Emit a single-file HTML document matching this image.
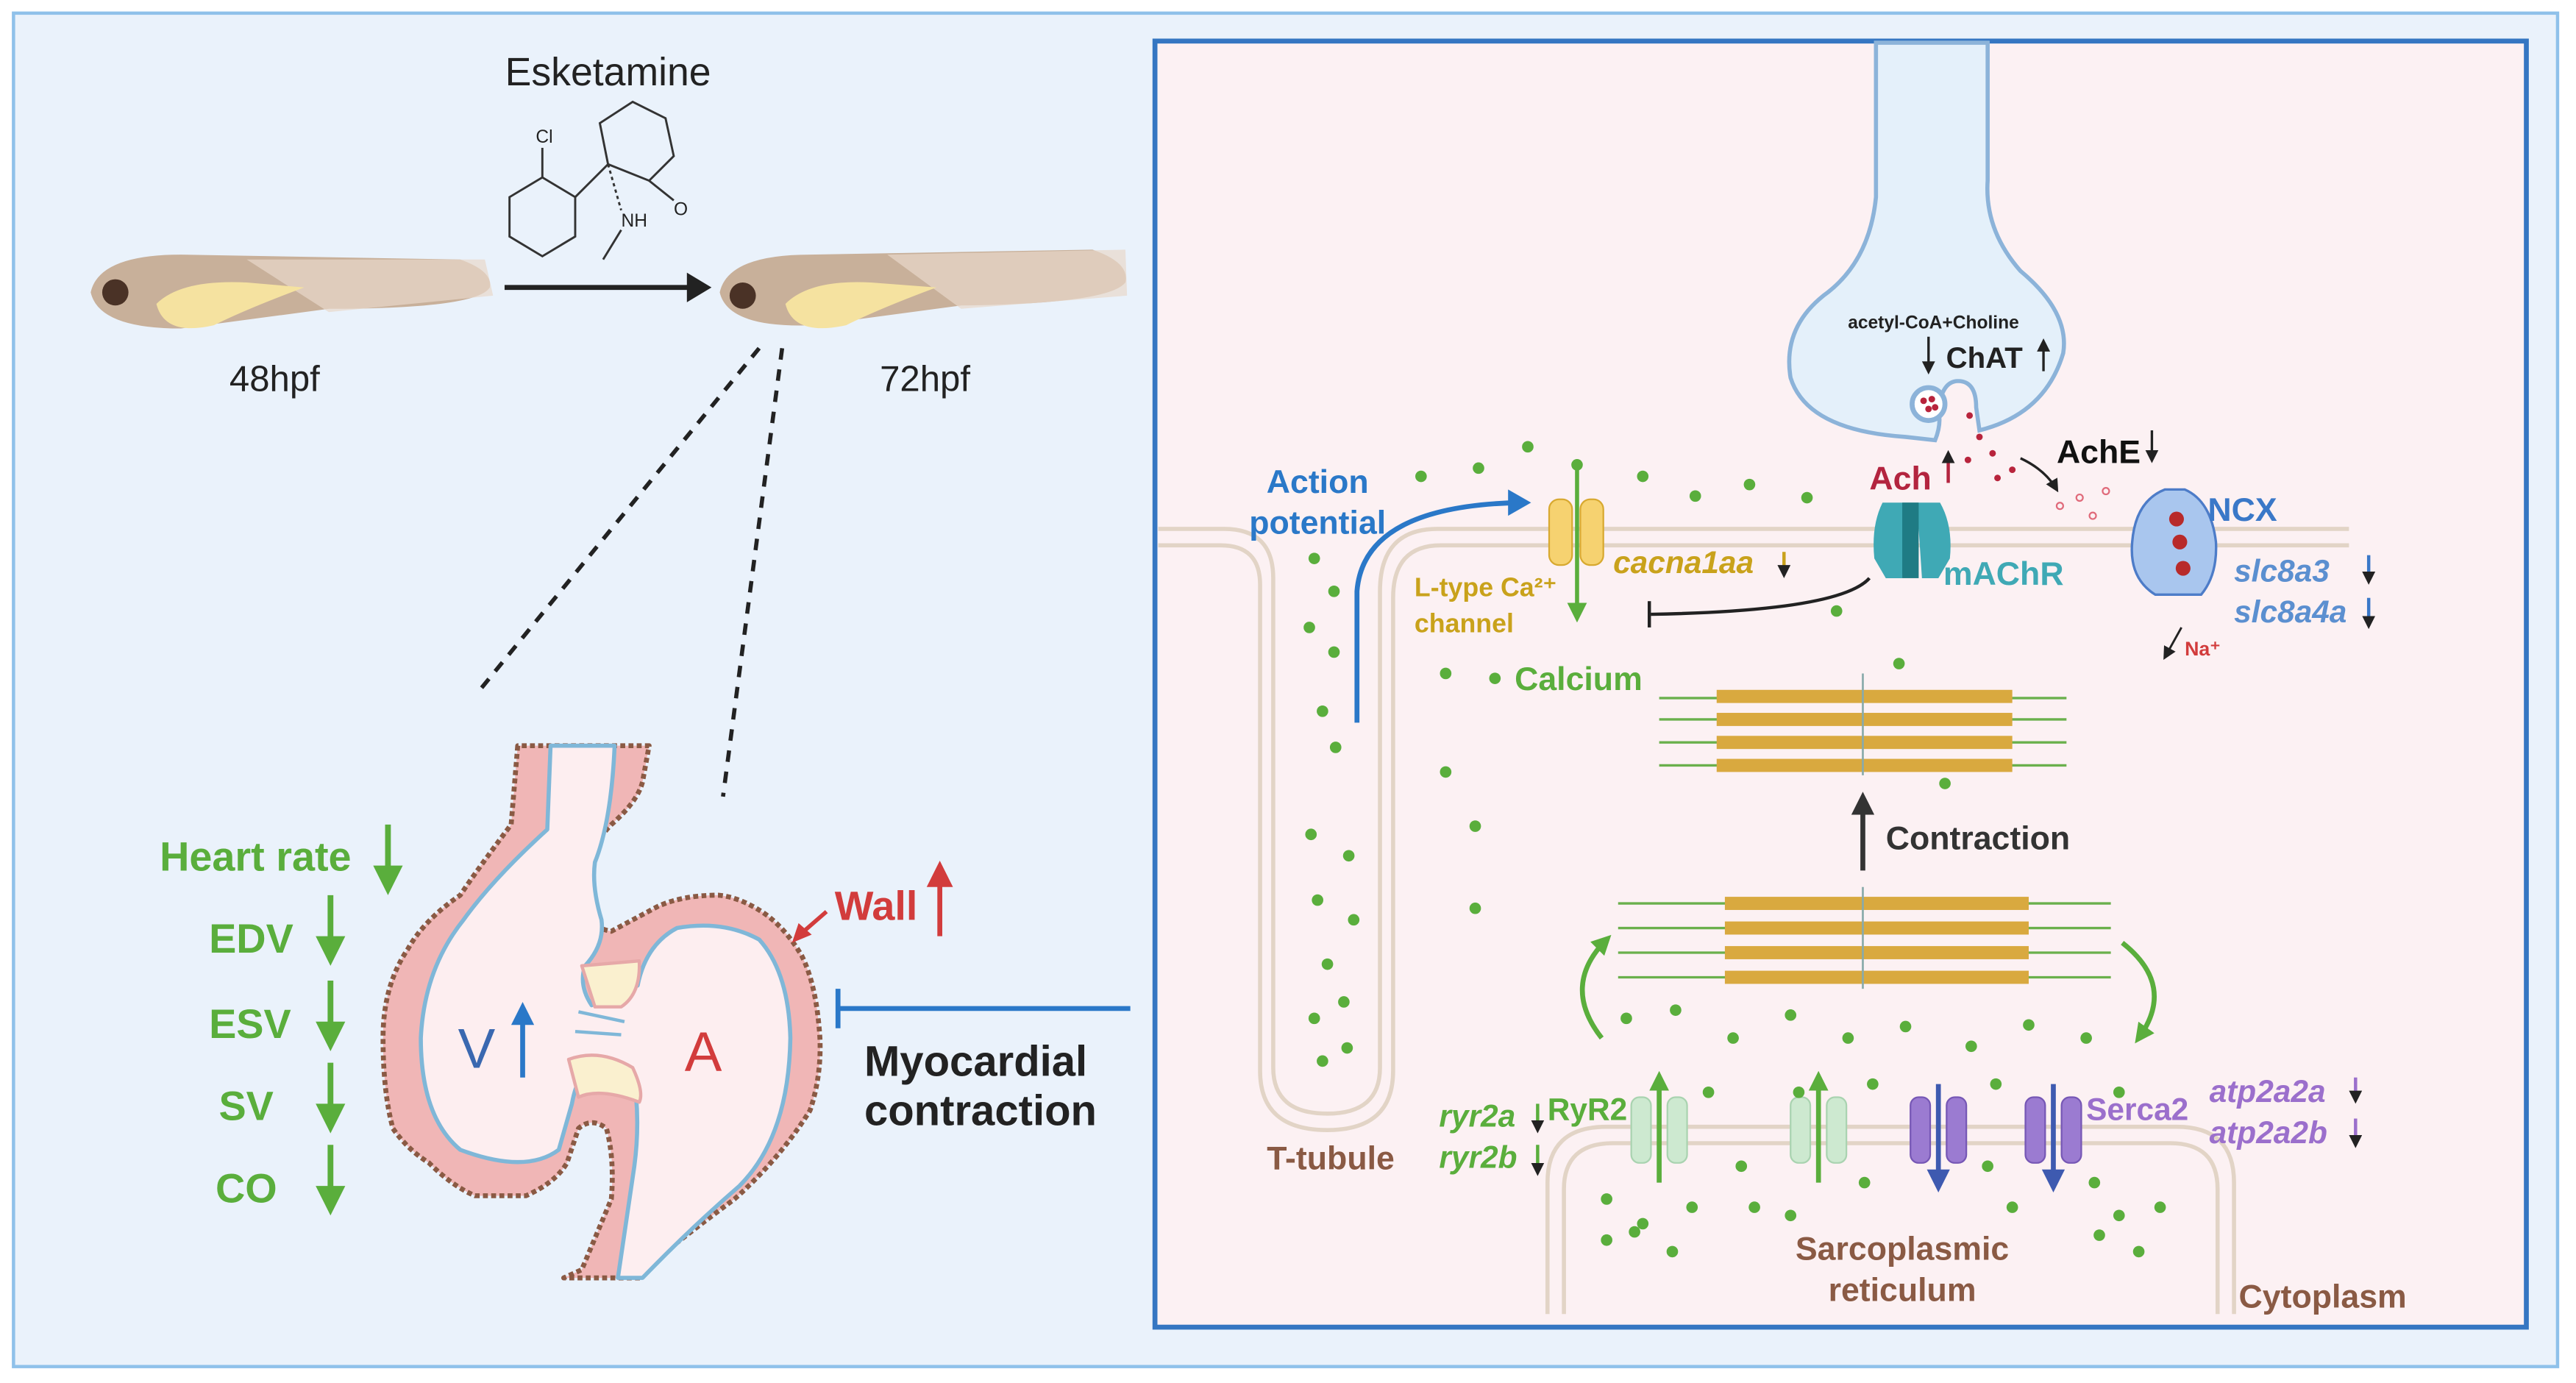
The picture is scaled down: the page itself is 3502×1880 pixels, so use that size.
<!DOCTYPE html>
<html><head><meta charset="utf-8"><style>
html,body{margin:0;padding:0;background:#fff}
svg{display:block}
text{font-family:"Liberation Sans",Arial,sans-serif}
</style></head><body>
<svg width="3502" height="1880" viewBox="0 0 1568 842" xmlns="http://www.w3.org/2000/svg">
<defs>
<marker id="ab" markerWidth="8" markerHeight="8" refX="6" refY="4" orient="auto" markerUnits="userSpaceOnUse"><path d="M0,0L8,4L0,8z" fill="#222"/></marker>
<marker id="abg" markerWidth="12" markerHeight="12" refX="8" refY="6" orient="auto" markerUnits="userSpaceOnUse"><path d="M0,0L12,6L0,12z" fill="#5aae3c"/></marker>
</defs>
<rect x="0" y="0" width="1568" height="842" fill="#fff"/>
<rect x="8" y="8" width="1549" height="824" fill="#eaf2fb" stroke="#8fc1ea" stroke-width="2"/>
<!-- Left top -->
<text x="370" y="52" font-size="24" text-anchor="middle" fill="#222">Esketamine</text>
<g stroke="#333" stroke-width="1.3" fill="none">
<polygon points="310,120 330,108 350,120 350,144 330,156 310,144"/>
<path d="M350,120 L370,100 L365,75 L385,62 L405,72 L410,95 L395,110 L370,100"/>
<path d="M395,110 L410,122" /><path d="M370,100 L378,128" stroke-dasharray="2,2"/>
<path d="M378,140 L367,158"/><path d="M330,108 L330,90"/>
</g>
<text x="326" y="87" font-size="11" fill="#222">Cl</text>
<text x="378" y="138" font-size="11" fill="#222">NH</text>
<text x="410" y="131" font-size="11" fill="#222">O</text>
<!-- fish -->
<g>
<path d="M55,178 Q60,155 110,155 L280,158 Q300,165 298,175 Q290,188 200,188 L110,200 Q60,200 55,178z" fill="#c8b09a"/>
<path d="M150,158 L295,158 L300,180 L200,190z" fill="#e8d8ca" opacity=".7"/>
<path d="M95,185 Q110,170 150,172 L185,175 Q150,188 130,198 Q100,205 95,185z" fill="#f5e2a0"/>
<circle cx="70" cy="178" r="8" fill="#4a3226"/>
<path d="M438,178 Q443,155 493,155 L665,152 Q688,160 685,172 Q675,185 585,186 L495,198 Q443,200 438,178z" fill="#c8b09a"/>
<path d="M540,155 L685,152 L686,180 L585,188z" fill="#e8d8ca" opacity=".7"/>
<path d="M478,185 Q493,170 530,172 L570,175 Q535,188 515,198 Q483,205 478,185z" fill="#f5e2a0"/>
<circle cx="452" cy="180" r="8" fill="#4a3226"/>
</g>
<line x1="307" y1="175" x2="420" y2="175" stroke="#222" stroke-width="3"/>
<path d="M418,166 L433,175 L418,184z" fill="#222"/>
<text x="167" y="238" font-size="22" text-anchor="middle" fill="#222">48hpf</text>
<text x="563" y="238" font-size="22" text-anchor="middle" fill="#222">72hpf</text>
<line x1="462" y1="212" x2="292" y2="420" stroke="#222" stroke-width="2.5" stroke-dasharray="7,6"/>
<line x1="476" y1="212" x2="440" y2="485" stroke="#222" stroke-width="2.5" stroke-dasharray="7,6"/>
<!-- heart -->
<g stroke-linejoin="round">
<path d="M315,454 L311,502 Q290,530 280,545 Q258,560 248,578 Q233,600 233,632 Q233,665 239,687 Q248,700 261,708 Q275,722 289,728 L320,728 Q338,720 345,708 L352,687 Q360,680 369,687 Q374,705 372,730 L354,773 L343,778 L391,778 L391,773 Q420,750 447,730 Q475,705 493,676 Q500,655 499,632 Q497,600 488,582 Q478,565 465,556 Q450,546 437,545 Q415,545 400,552 Q385,560 372,567 Q360,565 358,556 Q354,540 356,530 Q362,512 372,502 Q388,488 391,476 L395,454 Z" fill="#f0b6b6" stroke="#8a5a44" stroke-width="3" stroke-dasharray="3,2"/>
<path d="M335,454 L333,505 Q300,535 282,560 Q258,590 256,632 Q256,680 280,700 Q320,715 340,700 L348,672 Q352,650 365,645 L385,652 Q390,680 386,710 L376,778 L391,778 Q420,748 450,722 Q480,692 481,632 Q480,592 462,572 Q440,560 412,565 Q393,575 388,600 L360,612 Q352,600 356,588 Q368,575 366,560 Q360,540 362,525 Q372,500 374,454 Z" fill="#fdeef0" stroke="#7fb7d8" stroke-width="2.5"/>
<path d="M354,588 L389,585 Q390,605 378,613 L362,613z" fill="#faf0cf" stroke="#e6a8a8" stroke-width="2"/>
<path d="M346,645 Q365,638 385,650 Q392,665 389,671 Q365,662 352,668z" fill="#faf0cf" stroke="#e6a8a8" stroke-width="2"/>
<path d="M352,616 L380,622 M350,628 L378,630" stroke="#7fb7d8" stroke-width="2"/>
</g>
<text x="290" y="650" font-size="34" fill="#3a68b0" text-anchor="middle">V</text>
<line x1="318" y1="656" x2="318" y2="620" stroke="#2a78c8" stroke-width="3"/><path d="M311,624 L318,610 L325,624z" fill="#2a78c8"/>
<text x="428" y="652" font-size="34" fill="#d23c3c" text-anchor="middle">A</text>
<g font-weight="bold" font-size="25" fill="#5aae3c">
<text x="97" y="530">Heart rate</text>
<text x="127" y="580">EDV</text>
<text x="127" y="632">ESV</text>
<text x="133" y="682">SV</text>
<text x="131" y="732">CO</text>
</g>
<g stroke="#5aae3c" stroke-width="3.5">
<line x1="236" y1="502" x2="236" y2="532"/><line x1="201" y1="545" x2="201" y2="575"/><line x1="201" y1="597" x2="201" y2="627"/><line x1="201" y1="647" x2="201" y2="677"/><line x1="201" y1="697" x2="201" y2="727"/>
</g>
<g fill="#5aae3c">
<path d="M227,527 L236,545 L245,527z"/><path d="M192,570 L201,588 L210,570z"/><path d="M192,622 L201,640 L210,622z"/><path d="M192,672 L201,690 L210,672z"/><path d="M192,722 L201,740 L210,722z"/>
</g>
<text x="508" y="560" font-size="25" font-weight="bold" fill="#d23c3c">Wall</text>
<line x1="572" y1="570" x2="572" y2="535" stroke="#d23c3c" stroke-width="3"/><path d="M564,540 L572,524 L580,540z" fill="#d23c3c"/>
<line x1="503" y1="555" x2="488" y2="568" stroke="#d23c3c" stroke-width="2.5"/><path d="M482,574 L486,562 L494,569z" fill="#d23c3c"/>
<text x="526" y="655" font-size="26" font-weight="bold" fill="#222">Myocardial</text>
<text x="526" y="685" font-size="26" font-weight="bold" fill="#222">contraction</text>
<line x1="688" y1="614" x2="510" y2="614" stroke="#2a78c8" stroke-width="3"/>
<line x1="510" y1="602" x2="510" y2="626" stroke="#2a78c8" stroke-width="3"/>
<!-- right panel -->
<rect x="703" y="25" width="835" height="783" fill="#fcf1f3" stroke="#3576c2" stroke-width="3"/>
<g fill="none" stroke="#e2d4c6" stroke-width="2.5">
<path d="M705,322 L745,322 Q775,322 775,352 L775,650 Q775,678 808,678 Q840,678 840,650 L840,360 Q840,322 875,322 L1430,322"/>
<path d="M705,332 L743,332 Q767,332 767,356 L767,652 Q767,688 808,688 Q848,688 848,652 L848,364 Q848,332 877,332 L1430,332"/>
<path d="M942,800 L942,720 Q942,686 978,686 L1325,686 Q1360,686 1360,720 L1360,800"/>
<path d="M952,800 L952,724 Q952,696 982,696 L1321,696 Q1350,696 1350,724 L1350,800"/>
</g>
<!-- neuron -->
<path d="M1142,26 L1142,120 Q1138,160 1110,180 Q1085,200 1090,230 Q1100,262 1160,266 L1178,268 Q1182,258 1180,250 Q1182,232 1192,232 Q1203,232 1203,248 L1205,262 Q1245,252 1256,215 Q1260,190 1230,165 Q1208,140 1210,110 L1210,26z" fill="#e4f0fa" stroke="#8cb3d9" stroke-width="2.5"/>
<text x="1177" y="200" font-size="11" font-weight="bold" text-anchor="middle" fill="#222">acetyl-CoA+Choline</text>
<text x="1208" y="224" font-size="18" font-weight="bold" text-anchor="middle" fill="#222">ChAT</text>
<line x1="1174" y1="205" x2="1174" y2="226" stroke="#222" stroke-width="1.5" marker-end="url(#ab)"/>
<line x1="1244" y1="226" x2="1244" y2="208" stroke="#222" stroke-width="1.5" marker-end="url(#ab)"/>
<circle cx="1174" cy="246" r="10" fill="#fff" stroke="#8cb3d9" stroke-width="3"/>
<g fill="#b8243c"><circle cx="1171" cy="244" r="2"/><circle cx="1176" cy="243" r="2"/><circle cx="1174" cy="249" r="2"/><circle cx="1178" cy="248" r="2"/>
<circle cx="1199" cy="253" r="2"/><circle cx="1205" cy="266" r="2"/><circle cx="1213" cy="276" r="2"/><circle cx="1198" cy="280" r="2"/><circle cx="1216" cy="291" r="2"/><circle cx="1225" cy="286" r="2"/></g>
<g fill="none" stroke="#e06a7a" stroke-width="1"><circle cx="1254" cy="308" r="2"/><circle cx="1266" cy="303" r="2"/><circle cx="1274" cy="314" r="2"/><circle cx="1282" cy="299" r="2"/></g>
<path d="M1230,279 Q1245,286 1252,298" fill="none" stroke="#222" stroke-width="1.5" marker-end="url(#ab)"/>
<text x="1252" y="282" font-size="20" font-weight="bold" fill="#111">AchE</text>
<line x1="1310" y1="262" x2="1310" y2="280" stroke="#222" stroke-width="1.5" marker-end="url(#ab)"/>
<text x="1138" y="298" font-size="20" font-weight="bold" fill="#b3243f">Ach</text>
<line x1="1186" y1="294" x2="1186" y2="276" stroke="#b3243f" stroke-width="2" marker-end="url(#ab)"/>
<!-- mAChR -->
<path d="M1146,306 Q1139,320 1141,340 L1148,352 L1158,352 L1160,322 L1168,322 L1170,352 L1180,352 L1187,340 Q1189,320 1181,306z" fill="#3fa9b5"/>
<rect x="1158" y="306" width="10" height="46" fill="#1f7b84"/>
<text x="1183" y="356" font-size="20" font-weight="bold" fill="#3fa9b5">mAChR</text>
<path d="M1138,352 Q1120,372 1005,374" fill="none" stroke="#222" stroke-width="2"/>
<line x1="1004" y1="366" x2="1004" y2="382" stroke="#222" stroke-width="2"/>
<!-- NCX -->
<path d="M1318,298 Q1300,305 1298,330 Q1296,352 1312,362 L1340,362 Q1350,350 1349,330 Q1346,305 1330,298z" fill="#a9c6ee" stroke="#4d7cc8" stroke-width="1.5"/>
<g fill="#b82a2a"><circle cx="1325" cy="316" r="4.5"/><circle cx="1327" cy="330" r="4.5"/><circle cx="1329" cy="346" r="4.5"/></g>
<text x="1344" y="317" font-size="20" font-weight="bold" fill="#3a78c8">NCX</text>
<g font-size="19" font-weight="bold" font-style="italic" fill="#5b8fd0"><text x="1360" y="354">slc8a3</text><text x="1360" y="379">slc8a4a</text></g>
<g stroke="#3a78c8" stroke-width="2"><line x1="1442" y1="338" x2="1442" y2="354" marker-end="url(#ab)"/><line x1="1442" y1="364" x2="1442" y2="381" marker-end="url(#ab)"/></g>
<path d="M1328,382 L1318,400" stroke="#222" stroke-width="1.3" marker-end="url(#ab)"/>
<text x="1330" y="399" font-size="12" font-weight="bold" fill="#d23c3c">Na⁺</text>
<!-- L-type channel -->
<rect x="943" y="304" width="14" height="40" rx="6" fill="#f6d270" stroke="#d8a930"/>
<rect x="962" y="304" width="14" height="40" rx="6" fill="#f6d270" stroke="#d8a930"/>
<line x1="960" y1="285" x2="960" y2="375" stroke="#5aae3c" stroke-width="2.5" marker-end="url(#abg)"/>
<text x="982" y="349" font-size="19" font-weight="bold" font-style="italic" fill="#c9a21b">cacna1aa</text>
<line x1="1086" y1="336" x2="1086" y2="350" stroke="#c9a21b" stroke-width="2" marker-end="url(#ab)"/>
<text x="861" y="363" font-size="16" font-weight="bold" fill="#c9a21b">L-type Ca²⁺</text>
<text x="861" y="385" font-size="16" font-weight="bold" fill="#c9a21b">channel</text>
<text x="922" y="420" font-size="20" font-weight="bold" fill="#5aae3c">Calcium</text>
<text x="802" y="300" font-size="20" font-weight="bold" text-anchor="middle" fill="#2a78c8">Action</text>
<text x="802" y="325" font-size="20" font-weight="bold" text-anchor="middle" fill="#2a78c8">potential</text>
<path d="M826,440 L826,360 Q830,308 925,306" fill="none" stroke="#2a78c8" stroke-width="3"/>
<path d="M918,298 L932,306 L918,314z" fill="#2a78c8"/>
<text x="810" y="712" font-size="20" font-weight="bold" text-anchor="middle" fill="#8a5a44">T-tubule</text>
<text x="1158" y="767" font-size="20" font-weight="bold" text-anchor="middle" fill="#8a5a44">Sarcoplasmic</text>
<text x="1158" y="792" font-size="20" font-weight="bold" text-anchor="middle" fill="#8a5a44">reticulum</text>
<text x="1414" y="796" font-size="20" font-weight="bold" text-anchor="middle" fill="#8a5a44">Cytoplasm</text>
<!-- sarcomeres -->
<g>
<g stroke="#6ab04c" stroke-width="1.5">
<line x1="1010" y1="425" x2="1258" y2="425"/><line x1="1010" y1="438" x2="1258" y2="438"/><line x1="1010" y1="452" x2="1258" y2="452"/><line x1="1010" y1="466" x2="1258" y2="466"/>
<line x1="985" y1="550" x2="1285" y2="550"/><line x1="985" y1="565" x2="1285" y2="565"/><line x1="985" y1="580" x2="1285" y2="580"/><line x1="985" y1="595" x2="1285" y2="595"/>
</g>
<g fill="#d9a93f"><rect x="1045" y="420" width="180" height="8"/><rect x="1045" y="434" width="180" height="8"/><rect x="1045" y="448" width="180" height="8"/><rect x="1045" y="462" width="180" height="8"/>
<rect x="1050" y="546" width="185" height="8"/><rect x="1050" y="561" width="185" height="8"/><rect x="1050" y="576" width="185" height="8"/><rect x="1050" y="591" width="185" height="8"/></g>
<g stroke="#8aa" stroke-width="1.2"><line x1="1134" y1="410" x2="1134" y2="472"/><line x1="1134" y1="540" x2="1134" y2="602"/></g>
</g>
<line x1="1134" y1="530" x2="1134" y2="492" stroke="#333" stroke-width="3"/><path d="M1127,496 L1134,482 L1141,496z" fill="#333"/>
<text x="1148" y="517" font-size="20" font-weight="bold" fill="#333">Contraction</text>
<path d="M975,632 Q950,600 978,572" fill="none" stroke="#5aae3c" stroke-width="3" marker-end="url(#abg)"/>
<path d="M1292,574 Q1325,600 1302,632" fill="none" stroke="#5aae3c" stroke-width="3" marker-end="url(#abg)"/>
<!-- SR channels -->
<g fill="#cde9d0" stroke="#a9d3b0"><rect x="993" y="668" width="12" height="40" rx="5"/><rect x="1015" y="668" width="12" height="40" rx="5"/><rect x="1090" y="668" width="12" height="40" rx="5"/><rect x="1112" y="668" width="12" height="40" rx="5"/></g>
<g fill="#9b7bd1" stroke="#7657b5"><rect x="1163" y="668" width="12" height="40" rx="5"/><rect x="1185" y="668" width="12" height="40" rx="5"/><rect x="1233" y="668" width="12" height="40" rx="5"/><rect x="1255" y="668" width="12" height="40" rx="5"/></g>
<g stroke-width="3"><line x1="1010" y1="720" x2="1010" y2="656" stroke="#5aae3c" marker-end="url(#abg)"/><line x1="1107" y1="720" x2="1107" y2="656" stroke="#5aae3c" marker-end="url(#abg)"/>
<line x1="1180" y1="660" x2="1180" y2="718" stroke="#3e5ab0"/><line x1="1250" y1="660" x2="1250" y2="718" stroke="#3e5ab0"/></g>
<path d="M1173,712 L1180,726 L1187,712z M1243,712 L1250,726 L1257,712z" fill="#3e5ab0"/>
<text x="942" y="682" font-size="19" font-weight="bold" fill="#5aae3c">RyR2</text>
<g font-size="19" font-weight="bold" font-style="italic" fill="#5aae3c"><text x="876" y="686">ryr2a</text><text x="876" y="711">ryr2b</text></g>
<g stroke="#5aae3c" stroke-width="2"><line x1="936" y1="672" x2="936" y2="688" marker-end="url(#ab)"/><line x1="936" y1="697" x2="936" y2="714" marker-end="url(#ab)"/></g>
<text x="1270" y="682" font-size="19" font-weight="bold" fill="#9b6fcc">Serca2</text>
<g font-size="19" font-weight="bold" font-style="italic" fill="#9b6fcc"><text x="1345" y="671">atp2a2a</text><text x="1345" y="696">atp2a2b</text></g>
<g stroke="#9b6fcc" stroke-width="2"><line x1="1434" y1="656" x2="1434" y2="670" marker-end="url(#ab)"/><line x1="1434" y1="681" x2="1434" y2="697" marker-end="url(#ab)"/></g>
<!-- calcium dots -->
<g fill="#5aae3c">
<circle cx="865" cy="290" r="3.5"/><circle cx="900" cy="285" r="3.5"/><circle cx="930" cy="272" r="3.5"/><circle cx="960" cy="283" r="3.5"/><circle cx="1000" cy="290" r="3.5"/><circle cx="1032" cy="302" r="3.5"/><circle cx="1065" cy="295" r="3.5"/><circle cx="1100" cy="303" r="3.5"/><circle cx="1118" cy="372" r="3.5"/><circle cx="1156" cy="404" r="3.5"/><circle cx="1184" cy="477" r="3.5"/>
<circle cx="800" cy="340" r="3.5"/><circle cx="812" cy="360" r="3.5"/><circle cx="797" cy="382" r="3.5"/><circle cx="812" cy="397" r="3.5"/><circle cx="805" cy="433" r="3.5"/><circle cx="813" cy="455" r="3.5"/><circle cx="798" cy="508" r="3.5"/><circle cx="821" cy="521" r="3.5"/><circle cx="802" cy="548" r="3.5"/><circle cx="824" cy="560" r="3.5"/><circle cx="808" cy="587" r="3.5"/><circle cx="818" cy="610" r="3.5"/><circle cx="800" cy="620" r="3.5"/><circle cx="820" cy="638" r="3.5"/><circle cx="805" cy="646" r="3.5"/>
<circle cx="880" cy="410" r="3.5"/><circle cx="910" cy="413" r="3.5"/><circle cx="880" cy="470" r="3.5"/><circle cx="898" cy="503" r="3.5"/><circle cx="898" cy="553" r="3.5"/>
<circle cx="990" cy="620" r="3.5"/><circle cx="1020" cy="615" r="3.5"/><circle cx="1055" cy="632" r="3.5"/><circle cx="1090" cy="618" r="3.5"/><circle cx="1125" cy="632" r="3.5"/><circle cx="1160" cy="625" r="3.5"/><circle cx="1200" cy="637" r="3.5"/><circle cx="1235" cy="624" r="3.5"/><circle cx="1270" cy="632" r="3.5"/><circle cx="1040" cy="665" r="3.5"/><circle cx="1095" cy="665" r="3.5"/><circle cx="1140" cy="660" r="3.5"/><circle cx="1215" cy="660" r="3.5"/><circle cx="1290" cy="665" r="3.5"/>
<circle cx="978" cy="730" r="3.5"/><circle cx="1000" cy="745" r="3.5"/><circle cx="1030" cy="735" r="3.5"/><circle cx="978" cy="755" r="3.5"/><circle cx="995" cy="750" r="3.5"/><circle cx="1018" cy="762" r="3.5"/><circle cx="1060" cy="710" r="3.5"/><circle cx="1068" cy="735" r="3.5"/><circle cx="1090" cy="740" r="3.5"/><circle cx="1135" cy="720" r="3.5"/><circle cx="1210" cy="710" r="3.5"/><circle cx="1225" cy="735" r="3.5"/><circle cx="1275" cy="720" r="3.5"/><circle cx="1290" cy="740" r="3.5"/><circle cx="1315" cy="735" r="3.5"/><circle cx="1278" cy="752" r="3.5"/><circle cx="1302" cy="762" r="3.5"/>
</g>
</svg>
</body></html>
